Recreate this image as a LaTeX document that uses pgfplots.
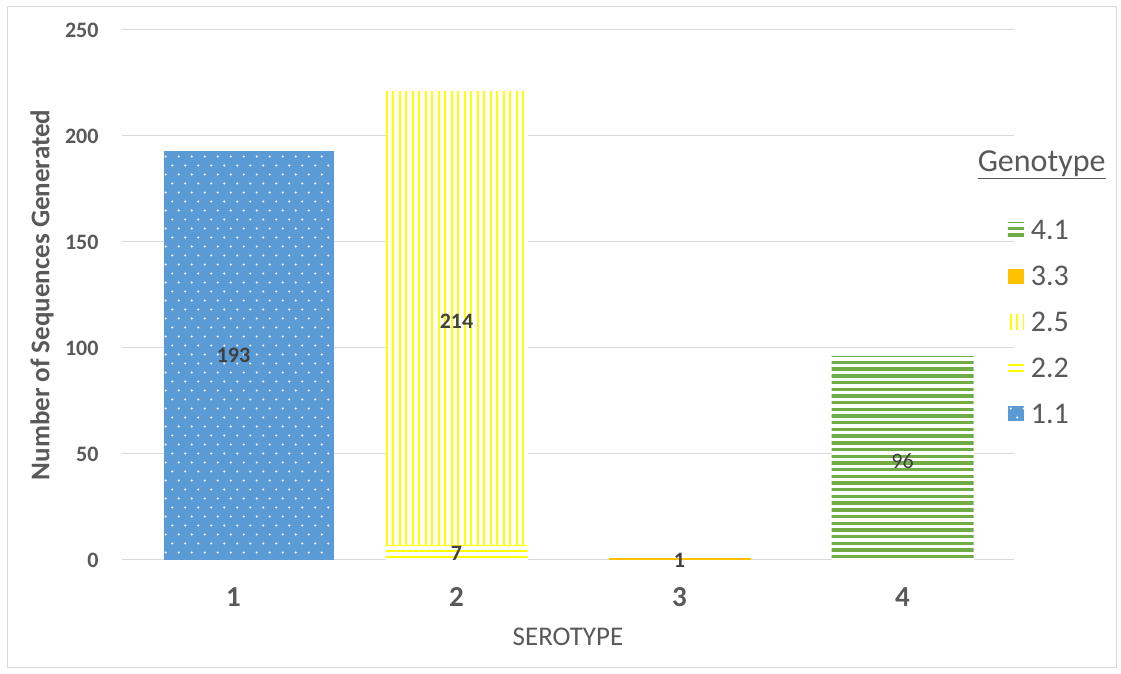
\documentclass[border=0pt]{standalone}
\usepackage{fontspec}
\setmainfont{Carlito}
\usepackage{pgfplots}
\pgfplotsset{compat=1.18}
\usetikzlibrary{patterns}
\definecolor{blueA}{HTML}{5B9BD5}
\definecolor{greenA}{HTML}{70AD47}
\definecolor{orangeA}{HTML}{FFC000}
\definecolor{yellowA}{HTML}{FFFF00}
\definecolor{textgray}{HTML}{595959}
\definecolor{labgray}{HTML}{404040}
\definecolor{gridgray}{HTML}{D9D9D9}
\pgfdeclarepatternformonly{stagdots}{\pgfpoint{-1pt}{-1pt}}{\pgfpoint{14pt}{19pt}}{\pgfpoint{13pt}{18pt}}{%
  \pgfpathcircle{\pgfpoint{3.25pt}{4.5pt}}{1.15pt}%
  \pgfpathcircle{\pgfpoint{9.75pt}{13.5pt}}{1.15pt}%
  \pgfusepath{fill}}
\pgfdeclarepatternformonly{vlinesY}{\pgfpoint{-1pt}{-1pt}}{\pgfpoint{7.5pt}{21pt}}{\pgfpoint{6.5pt}{20pt}}{%
  \pgfpathrectangle{\pgfpoint{2.35pt}{-1pt}}{\pgfpoint{1.8pt}{22pt}}%
  \pgfusepath{fill}}
\pgfdeclarepatternformonly{hlinesY}{\pgfpoint{-1pt}{-1pt}}{\pgfpoint{21pt}{7pt}}{\pgfpoint{20pt}{6pt}}{%
  \pgfpathrectangle{\pgfpoint{-1pt}{1.6pt}}{\pgfpoint{22pt}{2.8pt}}%
  \pgfusepath{fill}}
\pgfdeclarepatternformonly{hlinesG}{\pgfpoint{-1pt}{-1pt}}{\pgfpoint{21pt}{7.7pt}}{\pgfpoint{20pt}{6.7pt}}{%
  \pgfpathrectangle{\pgfpoint{-1pt}{1.65pt}}{\pgfpoint{22pt}{3.4pt}}%
  \pgfusepath{fill}}
\begin{document}
\begin{tikzpicture}
\useasboundingbox (0,0) rectangle (1121pt,674pt);
\draw[gridgray, line width=1pt] (7pt,6pt) rectangle (1116pt,667pt);
\begin{axis}[
  clip=false,
  at={(122pt,114pt)}, anchor=south west,
  scale only axis, width=892pt, height=530pt,
  ybar stacked, bar width=142pt,
  xmin=-0.5, xmax=3.5, ymin=0, ymax=250,
  xtick={0,1,2,3}, xticklabels={1,2,3,4},
  ytick={0,50,100,150,200,250},
  axis line style={draw=none},
  major tick length=0pt,
  ymajorgrids, grid style={gridgray, line width=1pt},
  /pgf/number format/assume math mode=true,
  y tick label style={font=\fontsize{22}{26}\selectfont\bfseries, text=textgray, xshift=-20pt},
  x tick label style={font=\fontsize{29}{33}\selectfont\bfseries, text=textgray, yshift=-24pt},
  ylabel={Number of Sequences Generated},
  every axis y label/.style={at={(axis description cs:-0.0897,0.5)}, rotate=90, anchor=center,
     font=\fontsize{27}{31}\selectfont\bfseries, text=textgray},
  xlabel={SEROTYPE},
  every axis x label/.style={at={(axis description cs:0.5,-0.145)}, anchor=center,
     font=\fontsize{27}{31}\selectfont, text=textgray},
  reverse legend,
  legend style={at={(rel axis cs:0.993,0.645)}, anchor=north west, draw=none, fill=none,
    font=\fontsize{30}{34}\selectfont, text=textgray, row sep=21pt, inner sep=0pt},
  legend cell align=left,
  legend image code/.code={\path[#1] (0pt,-7pt) rectangle (16pt,8pt); \path (21pt,0pt);},
]
\addplot[draw=none, fill=blueA, bar width=170pt, bar shift=15pt,
  postaction={pattern=stagdots, pattern color=white}]
  coordinates {(0,193) (1,0) (2,0) (3,0)};
\addlegendentry{1.1}
\addplot[draw=none, fill=white, postaction={pattern=hlinesY, pattern color=yellowA}]
  coordinates {(0,0) (1,7) (2,0) (3,0)};
\addlegendentry{2.2}
\addplot[draw=none, fill=white, postaction={pattern=vlinesY, pattern color=yellowA}]
  coordinates {(0,0) (1,214) (2,0) (3,0)};
\addlegendentry{2.5}
\addplot[draw=none, fill=orangeA]
  coordinates {(0,0) (1,0) (2,1) (3,0)};
\addlegendentry{3.3}
\addplot[draw=none, fill=white, postaction={pattern=hlinesG, pattern color=greenA}]
  coordinates {(0,0) (1,0) (2,0) (3,96)};
\addlegendentry{4.1}
\coordinate (lA) at (axis cs:0,96.7);
\coordinate (lB) at (axis cs:1,112.7);
\coordinate (lC) at (axis cs:1,3.3);
\coordinate (lD) at (axis cs:2,0);
\coordinate (lE) at (axis cs:3,46.7);
\coordinate (lG) at (axis description cs:1.031,0.745);
\end{axis}
\node[font=\fontsize{22}{26}\selectfont\bfseries, text=labgray] at (lA) {193};
\node[font=\fontsize{22}{26}\selectfont\bfseries, text=labgray] at (lB) {214};
\node[font=\fontsize{22}{26}\selectfont\bfseries, text=labgray] at (lC) {7};
\node[font=\fontsize{22}{26}\selectfont\bfseries, text=labgray] at (lD) {1};
\node[font=\fontsize{22}{26}\selectfont, text=labgray] at (lE) {96};
\node[font=\fontsize{32}{36}\selectfont, text=textgray] at (lG) {\underline{Genotype}};
\end{tikzpicture}
\end{document}
